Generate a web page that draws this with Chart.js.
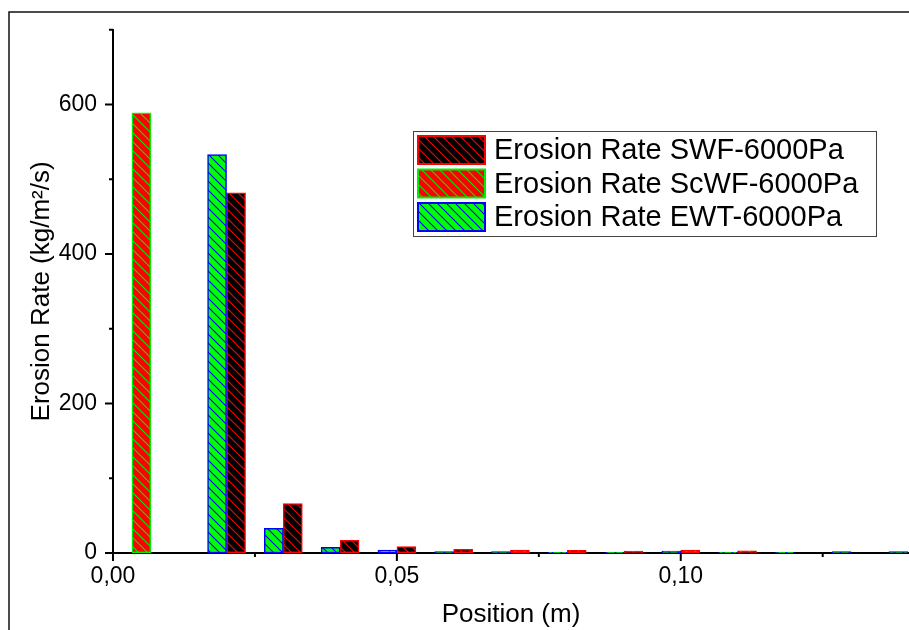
<!DOCTYPE html>
<html>
<head>
<meta charset="utf-8">
<script src="https://cdn.jsdelivr.net/npm/chart.js@4.4.0/dist/chart.umd.min.js"></script>
<style>
  html, body { margin: 0; padding: 0; background: #ffffff; }
  #wrap { width: 909px; height: 630px; position: relative; }
</style>
</head>
<body>
<div id="wrap"><canvas id="erosionChart"></canvas></div>
<script>
// positions along the wall (m) and erosion rates (kg/m2/s) per case
const positions = [0.005, 0.02, 0.03, 0.04, 0.05, 0.06, 0.07, 0.08, 0.09, 0.10, 0.11, 0.12, 0.13, 0.14];
const swfRates  = [null, 482, 66, 17, 8.5, 5, 4, 3.5, 2.6, 4, 3, 0, 0, 0];
const scwfRates = [589, null, null, null, null, null, null, null, null, null, null, null, null, null];
const ewtRates  = [null, 533, 33, 7.5, 4, 2, 2, 1, 1, 2.5, 1, 1, 2, 2];
const seriesNames = ['Erosion Rate SWF-6000Pa', 'Erosion Rate ScWF-6000Pa', 'Erosion Rate EWT-6000Pa'];

const xMajorTicks = [0, 0.05, 0.10];
const xTickLabels = ['0,00', '0,05', '0,10'];
const yMajorTicks = [0, 200, 400, 600];
const yTickLabels = ['0', '200', '400', '600'];

const fontFamily = "'Liberation Sans', Arial, sans-serif";

// diagonal hatch, like the Origin fill pattern
function makeHatch(fill, line) {
    const size = 9;
    const c = document.createElement('canvas');
    c.width = size;
    c.height = size;
    const g = c.getContext('2d');
    g.fillStyle = fill;
    g.fillRect(0, 0, size, size);
    g.strokeStyle = line;
    g.lineWidth = 1.1;
    g.beginPath();
    g.moveTo(-1, -1); g.lineTo(size + 1, size + 1);
    g.moveTo(-1, size - 1); g.lineTo(1, size + 1);
    g.moveTo(size - 1, -1); g.lineTo(size + 1, 1);
    g.stroke();
    return g.createPattern(c, 'repeat');
}

const swfFill = makeHatch('#000000', '#ff0000');
const scwfFill = makeHatch('#ff0000', '#00ee00');
const ewtFill = makeHatch('#00ff00', '#0000ff');

function near(a, b) { return Math.abs(a - b) < 1e-6; }

// page frame, minor/major ticks and the boxed legend
const decorPlugin = {
    id: 'decor',
    afterDraw(chart) {
        const ctx = chart.ctx;
        const xs = chart.scales.x;
        const ys = chart.scales.y;
        const area = chart.chartArea;
        ctx.save();

        // outer frame (cut at right/bottom in the original)
        ctx.strokeStyle = '#111';
        ctx.lineWidth = 1.5;
        ctx.beginPath();
        ctx.moveTo(9, 630);
        ctx.lineTo(9, 12);
        ctx.lineTo(909, 12);
        ctx.stroke();

        // ticks
        ctx.strokeStyle = '#000';
        ctx.lineWidth = 2;
        ctx.beginPath();
        xs.ticks.forEach(t => {
            const px = xs.getPixelForValue(t.value);
            const major = xMajorTicks.some(v => near(v, t.value));
            ctx.moveTo(px, area.bottom);
            ctx.lineTo(px, area.bottom + (major ? 8 : 4));
        });
        ys.ticks.forEach(t => {
            const py = ys.getPixelForValue(t.value);
            const major = yMajorTicks.some(v => near(v, t.value));
            ctx.moveTo(area.left, py);
            ctx.lineTo(area.left - (major ? 8 : 4), py);
        });
        ctx.stroke();

        // legend
        const lx = 413, ly = 131, lw = 463, lh = 105;
        ctx.strokeStyle = '#444';
        ctx.lineWidth = 1;
        ctx.strokeRect(lx + 0.5, ly + 0.5, lw, lh);
        const rows = chart.data.datasets;
        ctx.font = '29px ' + fontFamily;
        ctx.textBaseline = 'middle';
        rows.forEach((ds, i) => {
            const by = 136 + i * 33.5;
            ctx.fillStyle = ds.backgroundColor;
            ctx.fillRect(418, by, 67, 28);
            ctx.strokeStyle = ds.borderColor;
            ctx.lineWidth = 2;
            ctx.strokeRect(418, by, 67, 28);
            ctx.fillStyle = '#000';
            ctx.fillText(ds.label, 494, by + 15);
        });
        ctx.restore();
    }
};

const ctx = document.getElementById('erosionChart');
new Chart(ctx, {
    type: 'bar',
    data: {
        labels: positions,
        datasets: [
            {
                label: seriesNames[0],
                data: swfRates,
                backgroundColor: swfFill,
                borderColor: '#ff0000',
                order: 2
            },
            {
                label: seriesNames[1],
                data: scwfRates,
                backgroundColor: scwfFill,
                borderColor: '#00ee00',
                order: 1
            },
            {
                label: seriesNames[2],
                data: ewtRates,
                backgroundColor: ewtFill,
                borderColor: '#0000ff',
                order: 0
            }
        ]
    },
    options: {
        responsive: true,
        maintainAspectRatio: false,
        animation: false,
        devicePixelRatio: 1,
        layout: { padding: { top: 21, left: 0, right: 0, bottom: 0 } },
        datasets: {
            bar: {
                barThickness: 19,
                borderWidth: 1.5,
                borderSkipped: false,
                skipNull: true
            }
        },
        plugins: {
            legend: { display: false },
            tooltip: { enabled: false }
        },
        scales: {
            x: {
                type: 'linear',
                min: 0,
                max: 0.1402,
                offset: false,
                grid: { display: false, drawTicks: false },
                border: { display: true, color: '#000', width: 2 },
                ticks: {
                    stepSize: 0.025,
                    includeBounds: false,
                    autoSkip: false,
                    maxRotation: 0,
                    padding: 10,
                    color: '#000',
                    font: { family: fontFamily, size: 23 },
                    callback: (v) => {
                        const i = xMajorTicks.findIndex(m => near(m, v));
                        return i >= 0 ? xTickLabels[i] : '';
                    }
                },
                title: {
                    display: true,
                    text: 'Position (m)',
                    color: '#000',
                    font: { family: fontFamily, size: 26 },
                    padding: { top: 0, bottom: 0 }
                },
                afterFit: (scale) => { scale.height = 77; }
            },
            y: {
                min: 0,
                max: 700,
                grid: { display: false, drawTicks: false },
                border: { display: true, color: '#000', width: 2 },
                ticks: {
                    stepSize: 100,
                    autoSkip: false,
                    padding: 16,
                    color: '#000',
                    font: { family: fontFamily, size: 23 },
                    callback: (v) => {
                        const i = yMajorTicks.findIndex(m => near(m, v));
                        return i >= 0 ? yTickLabels[i] : '';
                    }
                },
                title: {
                    display: true,
                    text: 'Erosion Rate (kg/m²/s)',
                    color: '#000',
                    font: { family: fontFamily, size: 26 },
                    padding: { top: 26, bottom: 0 }
                },
                afterFit: (scale) => { scale.width = 113; }
            }
        }
    },
    plugins: [decorPlugin]
});
</script>
</body>
</html>
